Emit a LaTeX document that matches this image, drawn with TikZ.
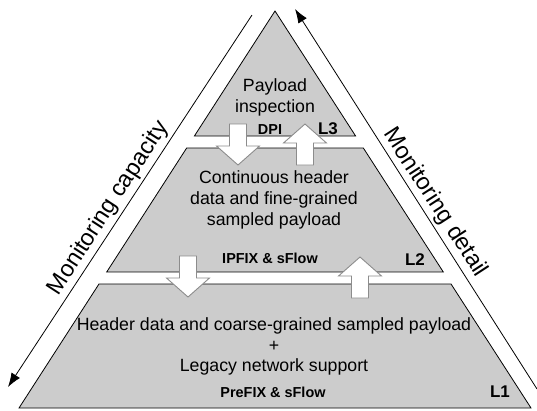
\documentclass[tikz,border=0pt]{standalone}
\usepackage{fontspec}
\setmainfont{Liberation Sans}
\usepackage{xcolor}
\usetikzlibrary{calc, arrows.meta}
\definecolor{layergray}{gray}{0.8}

\begin{document}
\begin{tikzpicture}[x=1bp, y=-1bp,
    layer/.style={draw=black, fill=layergray, line width=0.8bp},
    maintext/.style={font=\fontsize{17.8}{20.8}\selectfont, align=center, inner sep=0},
    tooltext/.style={font=\bfseries\fontsize{14.5}{17}\selectfont, inner sep=0, anchor=base},
    levellabel/.style={font=\bfseries\fontsize{17}{20}\selectfont, inner sep=0, anchor=base},
    sidetext/.style={font=\fontsize{23.5}{27}\selectfont, anchor=south, inner sep=3bp},
    side/.style={line width=0.8bp, -{Latex[length=14bp, width=10bp]}},
    flow/.style={draw=black!45, fill=white, line width=0.9bp},
    flowarrow/.pic={\draw[flow] (0,0) -- (21.5,-19) -- (8.5,-19) -- (8.5,-41)
                    -- (-8.5,-41) -- (-8.5,-19) -- (-21.5,-19) -- cycle;}]
                        \useasboundingbox (0,0) rectangle (537,410);
                        \coordinate (apex) at (275,11);
                        \coordinate (bl) at (19,408);
                        \coordinate (br) at (531,408);
                        \draw[layer] (apex) -- ($(apex)!0.3149!(bl)$) -- ($(apex)!0.3149!(br)$) -- cycle;
                        \draw[layer] ($(apex)!0.3451!(bl)$) -- ($(apex)!0.6574!(bl)$)
                            -- ($(apex)!0.6574!(br)$) -- ($(apex)!0.3451!(br)$) -- cycle;
                        \draw[layer] ($(apex)!0.6877!(bl)$) -- (bl) -- (br) -- ($(apex)!0.6877!(br)$) -- cycle;
                        \pic (down32) at (238,165) {flowarrow};
                        \pic[rotate=180] (up23) at (305,124) {flowarrow};
                        \pic (down21) at (188,297) {flowarrow};
                        \pic[rotate=180] (up12) at (360,257) {flowarrow};
                        \node[maintext] (t3) at (275,97.3) {Payload\\inspection};
                        \node[tooltext] (dpi) at (270,134.5) {DPI};
                        \node[levellabel] (l3) at (328,134.5) {L3};
                        \node[maintext] (t2) at (274,200) {Continuous header\\data and fine-grained\\sampled payload};
                        \node[tooltext] (ipfix) at (270,263) {IPFIX \& sFlow};
                        \node[levellabel] (l2) at (415,265) {L2};
                        \node[maintext] (t1) at (274,346.6) {Header data and coarse-grained sampled payload\\+\\Legacy network support};
                        \node[tooltext] (prefix) at (273,397) {PreFIX \& sFlow};
                        \node[levellabel] (l1) at (500,397) {L1};
                        \coordinate (capstart) at (252,15);
                        \coordinate (capend) at (8,387);
                        \coordinate (detstart) at (537,389);
                        \coordinate (detend) at (295,9);
                        \draw[side] (capstart) -- (capend);
                        \draw[side] (detstart) -- (detend);
                        \node[sidetext, rotate=57] (capacity) at ($(capstart)!0.54!(capend)$) {Monitoring capacity};
                        \node[sidetext, rotate=-57] (detail) at ($(detend)!0.53!(detstart)$) {Monitoring detail};
                    \end{tikzpicture}
\end{document}
